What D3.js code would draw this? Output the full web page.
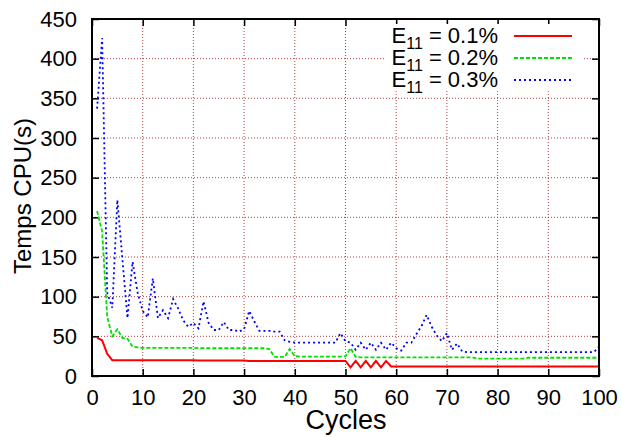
<!DOCTYPE html>
<html><head><meta charset="utf-8">
<script src="https://cdn.jsdelivr.net/npm/d3@7"></script>
<style>body{margin:0;background:#fff;} svg{display:block;} text{font-family:"Liberation Sans",Arial,sans-serif;fill:#000;}</style>
</head><body>
<svg id="c" width="621" height="437"></svg>
<script>
const cycles = d3.range(1, 101);
const red = [48,45,28,20,20,20,20,20,20,20, 20,20,20,20,20,20,20,20,20,20,
  19.5,19.5,19.5,19.5,19.5,19.5,19.5,19.5,19.5,19.5, 19,19,19,19,19,19,19,19,19,19,
  19,19,19,19,19,19,19,19,19,19, 11,19,11,19,11,19,11,19,12,12,
  12,12,12,12,12,12,12,12,12,12, 12,12,12,12,12,12,12,12,12,12,
  12,12,12,12,12,12,12,12,12,12, 12,12,12,12,12,12,12,12,12,12];
const green = [208,182,75,50,59,48,47,37,36,35.5, 35.5,35.5,35.5,35.5,35.5,35.5,35.5,35.5,35.5,35.5,
  35,35,35,35,35,35,35,35,35,35, 35,35,35,35,34,24,24,24,34,25,
  24.5,24.5,24.5,24.5,24.5,24.5,24.5,24.5,24.5,25, 35,24,23.5,23.5,23.5,23.5,23.5,23.5,23.5,23.5,
  23.5,23.5,23.5,23.5,23.5,23.5,23.5,23.5,23.5,23.5, 23.5,23.5,23.5,23.5,23.5,22,22,22,22,22,
  22,22,22,22,22,23,23,23,23,23, 23,23,23,23,23,23,23,23,23,23];
const blue = [337,426,105,86,222,147,73,144,105,82, 74,123,73,83,73,97,85,70,62,67,
  60,94,67,58,58,68,58,58,56,59, 82,69,57,57,57,56,56,45,43,42,
  42,42,42,42,42,42,42,42,54,44, 42,33,42,33,42,33,42,33,42,35,
  32,42,42,53,63,77,62,51,44,54, 33,41,31,30,30,30,30,30,30,30,
  30,30,30,30,30,30,30,30,30,30, 30,30,30,30,30,30,30,30,30,37];
const xTicks = [0,10,20,30,40,50,60,70,80,90,100];
const yTicks = [0,50,100,150,200,250,300,350,400,450];
const seriesNames = ["0.1%","0.2%","0.3%"];
const seriesColors = ["#ff0000","#00e000","#0000ff"];
const seriesDash = [null,"4,2","2,3"];

const L=92,R=599,T=19,B=376;
const svg = d3.select("#c");
const x = d3.scaleLinear().domain([0,100]).range([L,R]);
const y = d3.scaleLinear().domain([0,450]).range([B,T]);

// grid
const g = svg.append("g");
g.selectAll("line.gx").data(xTicks.filter(d=>d>0&&d<100)).join("line")
  .attr("x1",d=>x(d)).attr("x2",d=>x(d)).attr("y1",T).attr("y2",B)
  .attr("stroke","#a02020").attr("stroke-width",1).attr("stroke-dasharray","1,2").attr("opacity",0.85);
g.selectAll("line.gy").data(yTicks.filter(d=>d>0&&d<450)).join("line")
  .attr("x1",L).attr("x2",R).attr("y1",d=>y(d)).attr("y2",d=>y(d))
  .attr("stroke","#a02020").attr("stroke-width",1).attr("stroke-dasharray","1,2").attr("opacity",0.85);

// axes
const xAxis = svg.append("g").attr("transform",`translate(0,${B})`)
  .call(d3.axisBottom(x).tickValues(xTicks).tickSize(-7).tickPadding(13));
const yAxis = svg.append("g").attr("transform",`translate(${L},0)`)
  .call(d3.axisLeft(y).tickValues(yTicks).tickSize(-7).tickPadding(15));
const xTop = svg.append("g").attr("transform",`translate(0,${T})`)
  .call(d3.axisTop(x).tickValues(xTicks).tickSize(-7).tickFormat(""));
const yRight = svg.append("g").attr("transform",`translate(${R},0)`)
  .call(d3.axisRight(y).tickValues(yTicks).tickSize(-7).tickFormat(""));
[xAxis,yAxis,xTop,yRight].forEach(a=>{
  a.select(".domain").remove();
  a.selectAll(".tick line").attr("stroke","#000").attr("stroke-width",1.5);
  a.selectAll("text").attr("font-size",22).attr("fill","#000").attr("font-family","Liberation Sans, Arial, sans-serif");
});
xAxis.selectAll("text").attr("dy","0.71em");

// legend background
svg.append("rect").attr("x",384).attr("y",24).attr("width",200).attr("height",66).attr("fill","#fff");

// series
const data = [red,green,blue];
const line = d3.line().x((d,i)=>x(cycles[i])).y(d=>y(d));
data.forEach((s,k)=>{
  svg.append("path").datum(s).attr("d",line).attr("fill","none")
    .attr("stroke",seriesColors[k]).attr("stroke-width",k==0?2:1.8)
    .attr("stroke-dasharray",seriesDash[k]).attr("stroke-linejoin","miter");
});

// border
svg.append("rect").attr("x",L).attr("y",T).attr("width",R-L).attr("height",B-T)
  .attr("fill","none").attr("stroke","#000").attr("stroke-width",2);

// legend
const rowsY = [36,58,80];
seriesNames.forEach((n,k)=>{
  const t = svg.append("text").attr("x",498).attr("y",rowsY[k]+7).attr("text-anchor","end").attr("font-size",22);
  t.append("tspan").text("E");
  t.append("tspan").attr("font-size",16).attr("dy",6).text("11");
  t.append("tspan").attr("dy",-6).text(" = "+n);
  svg.append("line").attr("x1",514).attr("x2",572).attr("y1",rowsY[k]).attr("y2",rowsY[k])
    .attr("stroke",seriesColors[k]).attr("stroke-width",k==0?2:1.8).attr("stroke-dasharray",seriesDash[k]);
});

// titles
svg.append("text").attr("x",346).attr("y",429).attr("text-anchor","middle").attr("font-size",27).text("Cycles");
svg.append("text").attr("transform","translate(31,196) rotate(-90)").attr("text-anchor","middle").attr("font-size",24).text("Temps CPU(s)");
</script>
</body></html>
